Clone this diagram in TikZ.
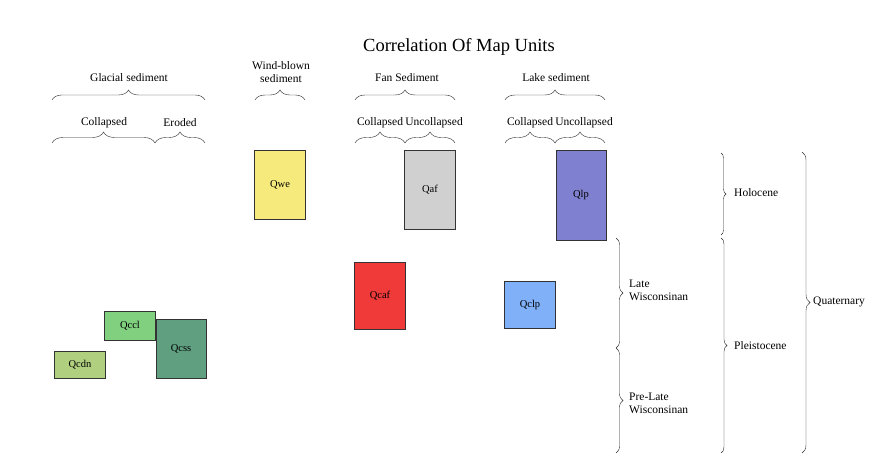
\documentclass[tikz,border=0pt]{standalone}
\usepackage{fontspec}
\setmainfont{Liberation Serif}
\usetikzlibrary{decorations.pathreplacing}
\definecolor{cWind}{RGB}{246,234,124}
\definecolor{cAlluv}{RGB}{208,208,208}
\definecolor{cLake}{RGB}{128,128,208}
\definecolor{cCollAlluv}{RGB}{240,58,58}
\definecolor{cCollLake}{RGB}{128,176,248}
\definecolor{cGlacA}{RGB}{128,208,128}
\definecolor{cGlacB}{RGB}{96,160,128}
\definecolor{cGlacC}{RGB}{176,208,128}
\tikzset{
  unitbox/.style={draw=black!80, line width=0.7pt, inner sep=0pt,
    font=\fontsize{10.5}{12}\selectfont},
  lbl/.style={font=\fontsize{11.5}{13}\selectfont, inner sep=1pt, align=center},
  sidelbl/.style={lbl, anchor=west, align=left},
  hbrace/.style={decorate, line width=0.4pt, draw=black!85,
    decoration={brace, amplitude=#1}},
  hbrace/.default=10pt
}

\begin{document}

\begin{tikzpicture}[x=1pt,y=-1pt]
\useasboundingbox (0,0) rectangle (876,462);

% title
\node[font=\fontsize{18.5}{20}\selectfont] (title) at (459,47) {Correlation Of Map Units};

% column headings
\node[lbl] (glacial) at (129,78) {Glacial sediment};
\node[lbl] (wind) at (281,72) {Wind-blown\\sediment};
\node[lbl] (fan) at (407,78) {Fan Sediment};
\node[lbl] (lake) at (556,78) {Lake sediment};

\draw[hbrace] (52,100) -- (205,100);
\draw[hbrace] (255,100) -- (305,100);
\draw[hbrace] (355,100) -- (455,100);
\draw[hbrace] (505,100) -- (605,100);

% sub-headings
\node[lbl] (gcoll) at (104,123) {Collapsed};
\node[lbl] (gero) at (180,123) {Eroded};
\node[lbl] (fcoll) at (380,123) {Collapsed};
\node[lbl] (funcoll) at (434,123) {Uncollapsed};
\node[lbl] (lcoll) at (530,123) {Collapsed};
\node[lbl] (luncoll) at (584,123) {Uncollapsed};

\draw[hbrace=11pt] (52,143) -- (155,143);
\draw[hbrace=11pt] (155,143) -- (205,143);
\draw[hbrace=11pt] (355,143) -- (405,143);
\draw[hbrace=11pt] (405,143) -- (455,143);
\draw[hbrace=11pt] (505,143) -- (555,143);
\draw[hbrace=11pt] (555,143) -- (605,143);

% map units
\node[unitbox, fill=cWind, minimum width=51, minimum height=69] (qwe) at (280,185) {Qwe};
\node[unitbox, fill=cAlluv, minimum width=51, minimum height=79] (qaf) at (430,190) {Qaf};
\node[unitbox, fill=cLake, minimum width=50, minimum height=90] (qlp) at (581,195) {Qlp};
\node[unitbox, fill=cCollAlluv, minimum width=51, minimum height=67] (qcaf) at (380,296) {Qcaf};
\node[unitbox, fill=cCollLake, minimum width=51, minimum height=47] (qclp) at (530,305) {Qclp};
\node[unitbox, fill=cGlacA, minimum width=51, minimum height=29] (qccl) at (130,326) {Qccl};
\node[unitbox, fill=cGlacB, minimum width=50, minimum height=59] (qcss) at (181,349) {Qcss};
\node[unitbox, fill=cGlacC, minimum width=51, minimum height=27] (qcdn) at (80,365) {Qcdn};

% time divisions
\draw[hbrace=7pt] (616,238) -- (616,348);
\draw[hbrace=7pt] (616,348) -- (616,453);
\node[sidelbl] (latew) at (628,290) {Late\\Wisconsinan};
\node[sidelbl] (prelatew) at (628,403) {Pre-Late\\Wisconsinan};

\draw[hbrace=5pt] (721,153) -- (721,235);
\draw[hbrace=6pt] (721,238) -- (721,453);
\node[sidelbl] (holo) at (733,193) {Holocene};
\node[sidelbl] (pleist) at (733,346) {Pleistocene};

\draw[hbrace=8pt] (802,152) -- (802,453);
\node[sidelbl] (quat) at (812,302) {Quaternary};
\end{tikzpicture}

\end{document}
